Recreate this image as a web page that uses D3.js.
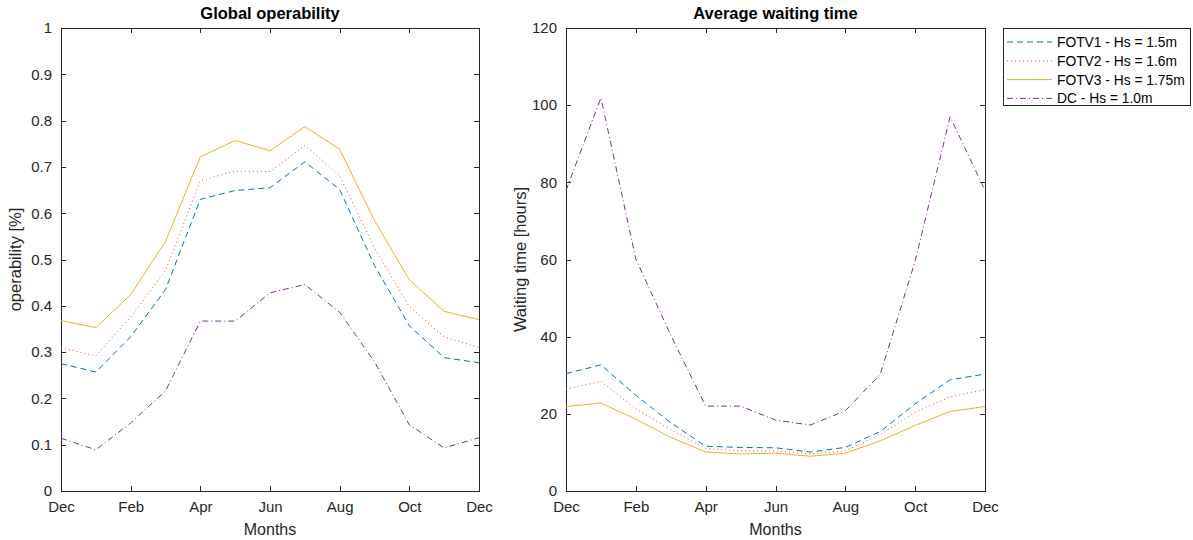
<!DOCTYPE html>
<html><head><meta charset="utf-8">
<script src="https://cdn.jsdelivr.net/npm/d3@7"></script>
<style>body{margin:0;background:#fff}svg{display:block;font-family:"Liberation Sans",Arial,sans-serif}</style>
</head><body><svg id="c" width="1193" height="540"></svg>
<script>
const months = [0,1,2,3,4,5,6,7,8,9,10,11,12];
const tickVals = [0,2,4,6,8,10,12];
const tickLabels = ["Dec","Feb","Apr","Jun","Aug","Oct","Dec"];
const seriesNames = ["FOTV1 - Hs = 1.5m","FOTV2 - Hs = 1.6m","FOTV3 - Hs = 1.75m","DC - Hs = 1.0m"];
const opFOTV1 = [0.275,0.257,0.333,0.435,0.630,0.649,0.655,0.711,0.651,0.487,0.357,0.288,0.277];
const opFOTV2 = [0.309,0.292,0.376,0.476,0.670,0.691,0.690,0.746,0.681,0.525,0.398,0.333,0.310];
const opFOTV3 = [0.368,0.353,0.424,0.539,0.722,0.757,0.735,0.787,0.738,0.584,0.456,0.388,0.370];
const opDC    = [0.114,0.089,0.147,0.216,0.367,0.367,0.428,0.446,0.386,0.279,0.143,0.093,0.115];
const wtFOTV1 = [30.4,32.7,24.8,17.7,11.6,11.3,11.2,10.1,11.3,15.4,22.6,28.8,30.3];
const wtFOTV2 = [26.4,28.4,21.3,15.9,11.0,10.4,10.4,9.6,10.4,14.6,20.4,24.4,26.3];
const wtFOTV3 = [21.9,22.8,18.6,13.9,10.1,9.6,9.8,9.0,9.8,13.0,17.0,20.6,21.9];
const wtDC    = [77.9,101.9,60.1,40.4,22.0,22.0,18.4,17.1,20.8,30.2,59.6,97.0,77.9];
const opTicks = [0,0.1,0.2,0.3,0.4,0.5,0.6,0.7,0.8,0.9,1];
const wtTicks = [0,20,40,60,80,100,120];

const colors = ["#0072BD","#D95319","#EDB120","#7E2F8E"];
const dashes = ["6,4","1,3",null,"6,3,1,3"];
const axCol = "#262626";
const svg = d3.select("#c");

function panel(x0,x1,y0,y1,yDomain,yTicks,yFmt,data,title,ylabel){
  const x = d3.scaleLinear().domain([0,12]).range([x0,x1]);
  const y = d3.scaleLinear().domain(yDomain).range([y1,y0]);
  const g = svg.append("g");
  g.append("rect").attr("x",x0).attr("y",y0).attr("width",x1-x0).attr("height",y1-y0)
    .attr("fill","#fff").attr("stroke",axCol).attr("stroke-width",1).attr("shape-rendering","crispEdges");
  const ax = d3.axisBottom(x).tickValues(tickVals).tickFormat((d,i)=>tickLabels[i]).tickSizeInner(-5).tickSizeOuter(0).tickPadding(10);
  const gx = g.append("g").attr("transform",`translate(0,${y1})`).call(ax);
  const axTop = d3.axisTop(x).tickValues(tickVals).tickFormat("").tickSizeInner(-5).tickSizeOuter(0);
  const gxt = g.append("g").attr("transform",`translate(0,${y0})`).call(axTop);
  const ay = d3.axisLeft(y).tickValues(yTicks).tickFormat(yFmt).tickSizeInner(-5).tickSizeOuter(0).tickPadding(9);
  const gy = g.append("g").attr("transform",`translate(${x0},0)`).call(ay);
  const ayr = d3.axisRight(y).tickValues(yTicks).tickFormat("").tickSizeInner(-5).tickSizeOuter(0);
  const gyr = g.append("g").attr("transform",`translate(${x1},0)`).call(ayr);
  [gx,gxt,gy,gyr].forEach(a=>{
    a.select(".domain").attr("stroke",axCol).attr("shape-rendering","crispEdges");
    a.selectAll(".tick line").attr("stroke",axCol).attr("shape-rendering","crispEdges");
    a.selectAll("text").attr("fill",axCol).attr("font-size",15).attr("font-family","Liberation Sans, Arial, sans-serif");
  });
  const line = d3.line().x((d,i)=>x(months[i])).y(d=>y(d));
  data.forEach((s,k)=>{
    g.append("path").attr("d",line(s)).attr("fill","none").attr("stroke",colors[k])
      .attr("stroke-width",1).attr("stroke-dasharray",dashes[k]);
  });
  g.append("text").attr("x",(x0+x1)/2).attr("y",y0-9).attr("text-anchor","middle")
    .attr("font-weight","bold").attr("font-size",16.5).attr("fill","#000").text(title);
  g.append("text").attr("x",(x0+x1)/2).attr("y",y1+44).attr("text-anchor","middle")
    .attr("font-size",16).attr("fill",axCol).text("Months");
  g.append("text").attr("transform",`translate(${x0-40},${(y0+y1)/2}) rotate(-90)`).attr("text-anchor","middle")
    .attr("font-size",16.5).attr("fill",axCol).text(ylabel);
}

panel(61,479,28,491,[0,1],opTicks,d=>d===0?"0":d===1?"1":d3.format(".1f")(d),
  [opFOTV1,opFOTV2,opFOTV3,opDC],"Global operability","operability [%]");
panel(566,985,28,491,[0,120],wtTicks,d=>d,
  [wtFOTV1,wtFOTV2,wtFOTV3,wtDC],"Average waiting time","Waiting time [hours]");

const lg = svg.append("g");
lg.append("rect").attr("x",1003.5).attr("y",28.5).attr("width",187).attr("height",77)
  .attr("fill","#fff").attr("stroke",axCol).attr("stroke-width",1);
seriesNames.forEach((n,k)=>{
  const yy = 42 + k*18.8;
  lg.append("line").attr("x1",1007).attr("x2",1052).attr("y1",yy).attr("y2",yy)
    .attr("stroke",colors[k]).attr("stroke-width",1).attr("stroke-dasharray",dashes[k]);
  lg.append("text").attr("x",1057).attr("y",yy+5).attr("font-size",13.8).attr("fill","#000").text(n);
});
</script></body></html>
